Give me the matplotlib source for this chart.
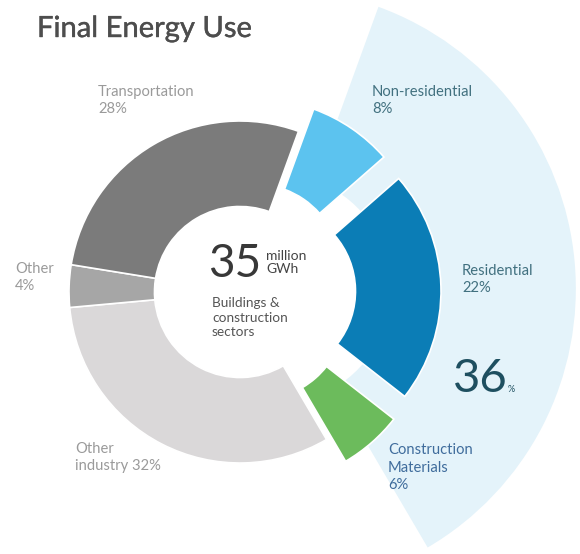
import matplotlib.pyplot as plt
import matplotlib.patheffects as pe

# Final energy use by sector (%), listed clockwise from the top of the buildings group
sectors = ["Non-residential", "Residential", "Construction\nMaterials",
           "Other\nindustry", "Other", "Transportation"]
shares = [8, 22, 6, 32, 4, 28]
is_building = [True, True, True, False, False, False]
total_energy = 35  # million GWh, buildings & construction sectors

colors = ["#5CC3EF", "#0B7DB6", "#6CBB5C", "#DAD8D9", "#A6A6A6", "#7B7B7B"]
label_colors = ["#41707F", "#41707F", "#3F6C9C", "#9A9A9A", "#9A9A9A", "#9A9A9A"]
label_sep = ["\n", "\n", "\n", " ", "\n", "\n"]
# left edge / baseline of the last line of each label, in pixels from the top-left
label_pos = [(372, 113), (462, 292), (388, 489), (75, 470), (15, 290), (98, 113)]
# how far each slice is pulled out of the ring, in pixels
pull_px = [27, 30, 29, 0, 0, 0]

W, H = 580, 554
R_PX = 171                 # outer radius of the ring in pixels
CX, CY = 240, 292          # ring centre in pixels
FONT = ["Lato", "DejaVu Sans"]


def fpos(x, y):
    return x / W, 1 - y / H


fig = plt.figure(figsize=(W / 100, H / 100), dpi=100)
ax = fig.add_axes([0, 0, 1, 1])

building_share = sum(s for s, b in zip(shares, is_building) if b)

# pale fan behind the buildings & construction slices
ax.pie([building_share, 100 - building_share], colors=["#E4F3FA", "none"],
       startangle=70, counterclock=False, radius=300 / R_PX,
       explode=[36 / R_PX, 0], wedgeprops=dict(width=(300 - 115) / R_PX, linewidth=0))

ax.pie(shares, colors=colors, startangle=70, counterclock=False, radius=1,
       explode=[p / R_PX for p in pull_px],
       wedgeprops=dict(width=0.5, edgecolor="white", linewidth=1.2))

ax.set_xlim(-CX / R_PX, (W - CX) / R_PX)
ax.set_ylim(-(H - CY) / R_PX, CY / R_PX)
ax.set_aspect("equal")
ax.axis("off")

for name, share, sep, col, (x, y) in zip(sectors, shares, label_sep, label_colors, label_pos):
    fig.text(*fpos(x, y), f"{name}{sep}{share}%", family=FONT, fontsize=10.6,
             color=col, ha="left", va="baseline", linespacing=1.3)

# slightly heavier than Lato Regular
fig.text(*fpos(37, 37), "Final Energy Use", family=FONT, fontsize=21,
         color="#4D4D4D", ha="left", va="baseline",
         path_effects=[pe.withStroke(linewidth=0.3, foreground="#4D4D4D")])

# centre of the ring
fig.text(*fpos(208, 277), f"{total_energy}", family=FONT, fontsize=33,
         color="#383838", ha="left", va="baseline")
fig.text(*fpos(266, 273), "million\nGWh", family=FONT, fontsize=10,
         color="#444444", ha="left", va="baseline", linespacing=1.1)
fig.text(*fpos(212, 336), "Buildings &\nconstruction\nsectors", family=FONT,
         fontsize=9.8, color="#555555", ha="left", va="baseline", linespacing=1.25)

# share of the buildings group
fig.text(*fpos(453, 392), f"{building_share}", family=FONT, fontsize=34,
         color="#1E4F60", ha="left", va="baseline")
fig.text(*fpos(508, 392), "%", family=FONT, fontsize=6.5,
         color="#1E4F60", ha="left", va="baseline")

fig.savefig("out.png", dpi=100, facecolor="white")
